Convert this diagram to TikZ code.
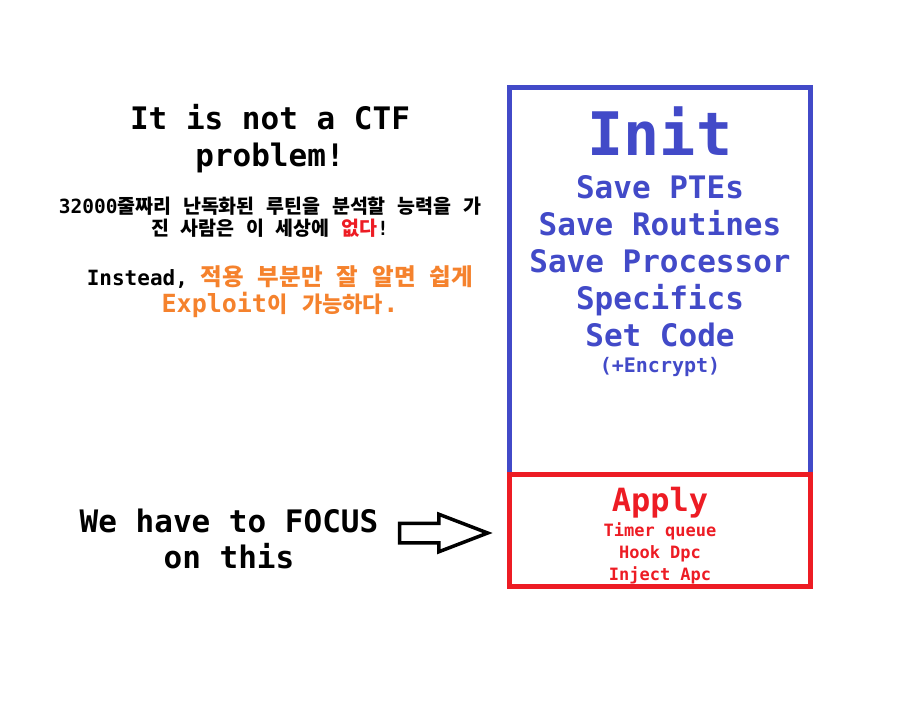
\documentclass[tikz,border=0pt]{standalone}
\usepackage{fontspec}
\setmainfont{DejaVu Sans Mono}
\newfontfamily\krfont{Noto Sans CJK KR}
\usetikzlibrary{positioning}
\usetikzlibrary{shapes.arrows}
\definecolor{initblue}{RGB}{66,74,200}
\definecolor{applyred}{RGB}{237,28,36}
\definecolor{hintorange}{RGB}{245,130,45}
\newcommand{\kr}[1]{{\krfont\spaceskip=0.6em\relax #1}}
\newcommand{\fs}[2]{\fontsize{#1}{#2}\selectfont}

\begin{document}
\begin{tikzpicture}[x=1pt,y=-1pt]
\tikzstyle{every node}=[align=center, inner sep=0pt]
\tikzstyle{stepbox}=[draw, line width=5pt, minimum width=301pt]
\tikzstyle{fatarrow}=[shape=single arrow, draw=black, fill=white, line width=3.5pt,
  minimum height=88pt, minimum width=34pt, inner xsep=0pt, inner ysep=8pt,
  single arrow head extend=9pt, single arrow tip angle=42]
\useasboundingbox (0,0) rectangle (911,713);

%=== Boites
\node[stepbox, draw=initblue, minimum height=386.5pt] (initbox) at (660,280.75) {};
\node[stepbox, draw=applyred, minimum height=112.5pt] (applybox) at (660,530.25) {};

% Init
\node[font=\bfseries\fs{60}{60}, text=initblue] (init) at (660,131) {Init};
\node[font=\bfseries\fs{31}{37}, text=initblue] (savelist) at (660,261)
  {Save PTEs\\Save Routines\\Save Processor\\Specifics\\Set Code};
\node[font=\bfseries\fs{20}{20}, text=initblue] (encrypt) at (660,367) {(+Encrypt)};

% Apply
\node[font=\bfseries\fs{32}{32}, text=applyred] (apply) at (660,503) {Apply};
\node[font=\bfseries\fs{17}{22}, text=applyred] (applylist) at (660,553)
  {Timer queue\\Hook Dpc\\Inject Apc};

%=== Textes a gauche
\node[font=\bfseries\fs{31}{37}] (ctf) at (270,139) {It is not a CTF\\problem!};
\node[font=\bfseries\fs{19.5}{22}] (nobody) at (270,217)
  {32000\kr{줄짜리 난독화된 루틴을 분석할 능력을 가}\\\kr{진 사람은 이 세상에 \textcolor{applyred}{없다}}!};
\node[font=\bfseries\fs{21}{27}] (instead) at (280,292)
  {Instead, \textcolor{hintorange}{\fs{23.5}{27}\kr{적용 부분만 잘 알면 쉽게}}\\
   \textcolor{hintorange}{\fs{25}{27}Exploit\kr{\fs{22}{27}이 가능하다}.}};

% Focus
\node[font=\bfseries\fs{31}{36}] (focus) at (229,539) {We have to FOCUS\\on this};
\node[fatarrow] (focusarrow) at (431,533) {};
\end{tikzpicture}
\end{document}
